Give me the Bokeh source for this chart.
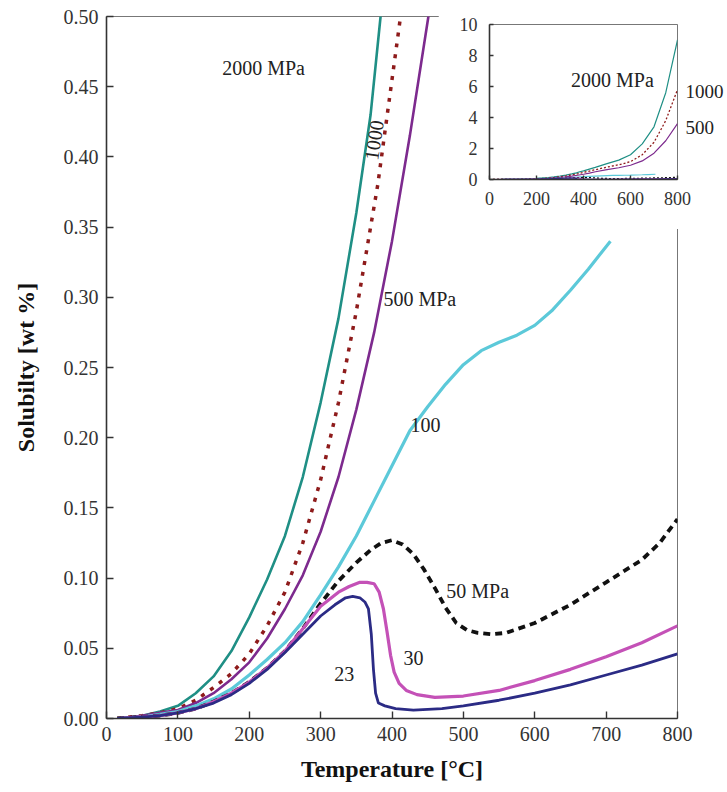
from bokeh.plotting import figure
from bokeh.models import Range1d, FixedTicker, NumeralTickFormatter, Label, LinearAxis
from bokeh.layouts import column
from bokeh.embed import file_html
from bokeh.resources import INLINE

FONT = "Liberation Serif"

# ---- data (temperature in °C, solubility in wt %) ----
T2000 = [15, 50, 75, 100, 125, 150, 175, 200, 225, 250, 275, 300, 325, 350, 370, 384,
         400, 450, 500, 550, 600, 650, 700, 750, 800]
S2000 = [0.0, 0.002, 0.005, 0.009, 0.018, 0.030, 0.048, 0.072, 0.099, 0.130, 0.172, 0.225, 0.285, 0.360, 0.430, 0.500,
         0.56, 0.78, 1.02, 1.25, 1.6, 2.3, 3.4, 5.6, 9.0]

T1000 = [15, 50, 75, 100, 125, 150, 175, 200, 225, 250, 275, 300, 325, 350, 380, 412,
         450, 500, 550, 600, 650, 700, 750, 800]
S1000 = [0.0, 0.002, 0.004, 0.007, 0.013, 0.022, 0.032, 0.046, 0.066, 0.090, 0.125, 0.170, 0.225, 0.290, 0.380, 0.500,
         0.63, 0.80, 0.95, 1.15, 1.6, 2.4, 3.8, 5.8]

T500 = [15, 50, 75, 100, 125, 150, 175, 200, 225, 250, 275, 300, 325, 350, 375, 400, 425, 451,
        500, 550, 600, 650, 700, 750, 800]
S500 = [0.0, 0.002, 0.004, 0.006, 0.011, 0.018, 0.028, 0.040, 0.057, 0.078, 0.102, 0.133, 0.172, 0.220, 0.275, 0.340, 0.415, 0.500,
        0.64, 0.76, 0.92, 1.2, 1.7, 2.5, 3.6]

T100 = [15, 50, 75, 100, 125, 150, 175, 200, 225, 250, 275, 300, 325, 350, 375, 400, 425, 450,
        475, 500, 525, 550, 575, 600, 625, 650, 675, 706]
S100 = [0.0, 0.001, 0.003, 0.005, 0.009, 0.014, 0.021, 0.031, 0.042, 0.054, 0.069, 0.088, 0.108, 0.130, 0.155, 0.180, 0.205, 0.222,
        0.238, 0.252, 0.262, 0.268, 0.273, 0.280, 0.291, 0.305, 0.320, 0.340]

T50 = [15, 50, 75, 100, 125, 150, 175, 200, 225, 250, 275, 300, 325, 350, 370, 385, 400, 415, 430, 445,
       460, 475, 490, 505, 520, 540, 560, 600, 650, 700, 750, 775, 800]
S50 = [0.0, 0.001, 0.002, 0.004, 0.007, 0.012, 0.018, 0.026, 0.036, 0.048, 0.064, 0.082, 0.098, 0.111, 0.120, 0.125, 0.127, 0.124, 0.117, 0.106,
       0.093, 0.079, 0.068, 0.063, 0.061, 0.060, 0.061, 0.068, 0.081, 0.097, 0.113, 0.125, 0.142]

T30 = [15, 50, 75, 100, 125, 150, 175, 200, 225, 250, 275, 300, 325, 340, 355, 365, 375, 382, 388, 393,
       398, 403, 410, 420, 435, 460, 500, 550, 600, 650, 700, 750, 800]
S30 = [0.0, 0.001, 0.002, 0.004, 0.007, 0.012, 0.018, 0.026, 0.036, 0.048, 0.064, 0.080, 0.090, 0.094, 0.097, 0.097, 0.096, 0.090, 0.078, 0.062,
       0.045, 0.033, 0.025, 0.020, 0.017, 0.015, 0.016, 0.020, 0.027, 0.035, 0.044, 0.054, 0.066]

T23 = [15, 50, 75, 100, 125, 150, 175, 200, 225, 250, 275, 300, 320, 335, 345, 355, 362, 367, 371, 374,
       377, 381, 390, 405, 430, 470, 500, 550, 600, 650, 700, 750, 800]
S23 = [0.0, 0.001, 0.002, 0.004, 0.007, 0.011, 0.017, 0.025, 0.035, 0.047, 0.060, 0.073, 0.081, 0.086, 0.087, 0.086, 0.083, 0.078, 0.060, 0.035,
       0.018, 0.011, 0.009, 0.007, 0.006, 0.007, 0.009, 0.013, 0.018, 0.024, 0.031, 0.038, 0.046]

X_TICKS = [0, 100, 200, 300, 400, 500, 600, 700, 800]
Y_TICKS = [0.0, 0.05, 0.10, 0.15, 0.20, 0.25, 0.30, 0.35, 0.40, 0.45, 0.50]
INSET_X_TICKS = [0, 200, 400, 600, 800]
INSET_Y_TICKS = [0, 2, 4, 6, 8, 10]
INSET_SIDE_LABELS = {5.7: "1000", 3.35: "500"}

series = [
    (T2000, S2000, "#1f8f85", None),
    (T1000, S1000, "#8e1b1b", "4 7"),
    (T500, S500, "#7d2a8e", None),
    (T100, S100, "#5cc9d9", None),
    (T50, S50, "#111111", "7 5"),
    (T30, S30, "#c451b7", None),
    (T23, S23, "#2b2b85", None),
]
main_widths = [2.6, 3.5, 2.6, 3.2, 3.8, 3.2, 2.8]


def style_axes(fig, size, standoff, tick_in):
    for ax in (fig.xaxis[0], fig.yaxis[0]):
        ax.axis_line_color = "#333333"
        ax.axis_line_width = 1.6
        ax.major_tick_line_color = "#333333"
        ax.major_tick_line_width = 1.4
        ax.major_tick_in = tick_in
        ax.major_tick_out = 0
        ax.minor_tick_line_color = None
        ax.major_label_text_font = FONT
        ax.major_label_text_font_size = size
        ax.major_label_text_color = "#333333"
        ax.major_label_standoff = standoff
        ax.axis_label_text_font = FONT
        ax.axis_label_text_font_style = "bold"
        ax.axis_label_text_color = "#111111"
    fig.xgrid.grid_line_color = None
    fig.ygrid.grid_line_color = None
    fig.outline_line_color = "#777777"
    fig.outline_line_width = 1


# ---- main figure ----
MAIN_TOP, MAIN_FH, MAIN_BOTTOM = 16, 702, 72
p = figure(frame_width=571, frame_height=MAIN_FH, x_range=Range1d(0, 800), y_range=Range1d(0, 0.5),
           output_backend="svg", toolbar_location=None,
           min_border_left=106, min_border_right=30, min_border_top=MAIN_TOP, min_border_bottom=MAIN_BOTTOM)
p.frame_align = False
style_axes(p, "20px", 8, 7)
p.xaxis.ticker = FixedTicker(ticks=X_TICKS)
p.yaxis.ticker = FixedTicker(ticks=Y_TICKS)
p.yaxis.formatter = NumeralTickFormatter(format="0.00")
p.xaxis.axis_label = "Temperature [°C]"
p.yaxis.axis_label = "Solubilty [wt %]"
p.xaxis.axis_label_text_font_size = "24px"
p.yaxis.axis_label_text_font_size = "24px"
p.xaxis.axis_label_standoff = 12
p.yaxis.axis_label_standoff = 22

for (t, s, c, d), w in zip(series, main_widths):
    if d:
        p.line(t, s, line_color=c, line_width=w, line_dash=d)
    else:
        p.line(t, s, line_color=c, line_width=w)

LBL = dict(text_font=FONT, text_font_size="20px", text_color="#222222")
p.add_layout(Label(x=220, y=0.463, text="2000 MPa", text_align="center", text_baseline="middle", **LBL))
p.add_layout(Label(x=375, y=0.412, text="1000", angle=1.42, text_align="center", text_baseline="middle", **LBL))
p.add_layout(Label(x=388, y=0.299, text="500 MPa", text_align="left", text_baseline="middle", **LBL))
p.add_layout(Label(x=447, y=0.209, text="100", text_align="center", text_baseline="middle", **LBL))
p.add_layout(Label(x=476, y=0.091, text="50 MPa", text_align="left", text_baseline="middle", **LBL))
p.add_layout(Label(x=416, y=0.043, text="30", text_align="left", text_baseline="middle", **LBL))
p.add_layout(Label(x=319, y=0.032, text="23", text_align="left", text_baseline="middle", **LBL))

# ---- inset ----
q = figure(frame_width=188, frame_height=155, x_range=Range1d(0, 800), y_range=Range1d(0, 10),
           output_backend="svg", toolbar_location=None,
           min_border_left=51, min_border_right=50, min_border_top=24, min_border_bottom=50)
q.frame_align = False
style_axes(q, "18px", 12, 4)
q.xaxis.ticker = FixedTicker(ticks=INSET_X_TICKS)
q.yaxis.ticker = FixedTicker(ticks=INSET_Y_TICKS)
side = LinearAxis(ticker=FixedTicker(ticks=list(INSET_SIDE_LABELS.keys())),
                  major_label_overrides=INSET_SIDE_LABELS)
side.axis_line_color = None
side.major_tick_line_color = None
side.minor_tick_line_color = None
side.major_tick_in = 0
side.major_tick_out = 0
side.major_label_standoff = 8
side.major_label_text_font = FONT
side.major_label_text_font_size = "19px"
side.major_label_text_color = "#222222"
q.add_layout(side, "right")

for t, s, c, d in series:
    if d:
        q.line(t, s, line_color=c, line_width=1.3, line_dash="2 2")
    else:
        q.line(t, s, line_color=c, line_width=1.2)

q.add_layout(Label(x=523, y=6.4, text="2000 MPa", text_align="center", text_baseline="middle", **LBL))

q.margin = (-(MAIN_TOP + MAIN_FH + MAIN_BOTTOM), 0, 0, 438)

layout = column(p, q, spacing=0)
open("out.html", "w").write(file_html(layout, INLINE))
